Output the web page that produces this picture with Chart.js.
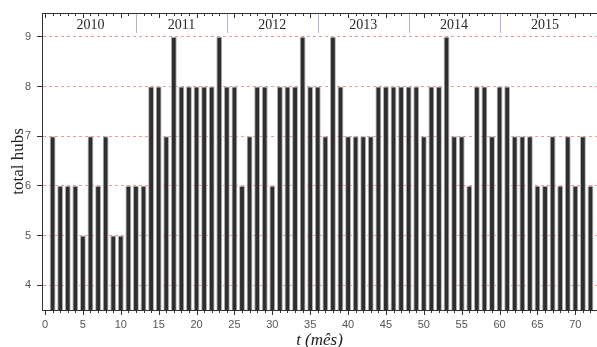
<!DOCTYPE html>
<html>
<head>
<meta charset="utf-8">
<script src="https://cdn.jsdelivr.net/npm/chart.js@4.4.1/dist/chart.umd.min.js"></script>
<style>
  html, body { margin: 0; padding: 0; background: #fff; }
  #wrap { width: 597px; height: 347px; }
</style>
</head>
<body>
<div id="wrap"><canvas id="hubs"></canvas></div>
<script>
// months since start (1..72)
const months = Array.from({ length: 72 }, (_, i) => i + 1);

// total hubs per month
const hubs = [
  7, 6, 6, 6, 5, 7, 6, 7, 5, 5, 6, 6,
  6, 8, 8, 7, 9, 8, 8, 8, 8, 8, 9, 8,
  8, 6, 7, 8, 8, 6, 8, 8, 8, 9, 8, 8,
  7, 9, 8, 7, 7, 7, 7, 8, 8, 8, 8, 8,
  8, 7, 8, 8, 9, 7, 7, 6, 8, 8, 7, 8,
  8, 7, 7, 7, 6, 6, 7, 6, 7, 6, 7, 6
];

const years = ['2010', '2011', '2012', '2013', '2014', '2015'];
const monthsPerYear = 12;

const xTicks = [0, 5, 10, 15, 20, 25, 30, 35, 40, 45, 50, 55, 60, 65, 70];
const yTicks = [4, 5, 6, 7, 8, 9];

const tickFont = { family: 'Liberation Sans, Arial, sans-serif', size: 11 };

// box top line, minor/major tick marks and the year band
const framePlugin = {
    id: 'frame',
    afterDraw(chart) {
        const { ctx, chartArea: a, scales: { x } } = chart;
        ctx.save();
        ctx.strokeStyle = '#333';
        ctx.lineWidth = 1;
        ctx.beginPath();
        ctx.moveTo(a.left, a.top + 0.5);
        ctx.lineTo(a.right, a.top + 0.5);
        for (let m = Math.ceil(x.min); m <= Math.floor(x.max); m++) {
            const px = Math.round(x.getPixelForValue(m)) + 0.5;
            const len = m % 5 === 0 ? 5 : 3;
            ctx.moveTo(px, a.bottom);
            ctx.lineTo(px, a.bottom + len);
            ctx.moveTo(px, a.top);
            ctx.lineTo(px, a.top + len);
        }
        ctx.stroke();

        // year separators
        ctx.strokeStyle = '#aab2f2';
        ctx.beginPath();
        for (let k = 1; k < years.length; k++) {
            const px = Math.round(x.getPixelForValue(k * monthsPerYear)) + 0.5;
            ctx.moveTo(px, a.top + 1);
            ctx.lineTo(px, a.top + 20);
        }
        ctx.stroke();

        // year labels
        ctx.fillStyle = '#2a2a2a';
        ctx.font = '14px "Liberation Serif", "DejaVu Serif", serif';
        ctx.textAlign = 'center';
        ctx.textBaseline = 'middle';
        years.forEach((label, k) => {
            const px = x.getPixelForValue(k * monthsPerYear + monthsPerYear / 2);
            ctx.fillText(label, px, a.top + 12);
        });
        ctx.restore();
    }
};

const ctx = document.getElementById('hubs').getContext('2d');

new Chart(ctx, {
    type: 'bar',
    data: {
        datasets: [{
            label: 'total hubs',
            data: months.map((m, i) => ({ x: m, y: hubs[i] })),
            backgroundColor: '#2e2e2e',
            borderColor: '#b4b4b4',
            borderWidth: 1,
            barPercentage: 0.78,
            categoryPercentage: 1
        }]
    },
    options: {
        responsive: true,
        maintainAspectRatio: false,
        animation: false,
        layout: { padding: { top: 13, right: 0, left: 0, bottom: 0 } },
        plugins: {
            legend: { display: false },
            tooltip: { enabled: false }
        },
        scales: {
            x: {
                type: 'linear',
                offset: false,
                min: -0.4,
                max: 72.86,
                afterBuildTicks: s => { s.ticks = xTicks.map(v => ({ value: v })); },
                afterFit: s => { s.height = 37; },
                grid: { display: false, drawTicks: true, tickLength: 5, offset: false },
                border: { display: true, color: '#333', width: 1 },
                ticks: { font: tickFont, color: '#555', padding: 3, maxRotation: 0 },
                title: {
                    display: true,
                    text: 't (mês)',
                    font: { family: 'Liberation Serif, serif', size: 17, style: 'italic' },
                    color: '#222',
                    padding: { top: 0, bottom: -4 }
                }
            },
            y: {
                min: 3.5,
                max: 9.48,
                afterBuildTicks: s => { s.ticks = yTicks.map(v => ({ value: v })); },
                afterFit: s => { s.width = 42; },
                grid: {
                    color: 'rgba(236, 120, 120, 0.75)',
                    drawTicks: true,
                    tickLength: 5,
                    tickColor: '#333',
                    tickBorderDash: []
                },
                border: { display: true, color: '#333', width: 1, dash: [3, 3] },
                ticks: { font: tickFont, color: '#555', padding: 6 },
                title: {
                    display: true,
                    text: 'total hubs',
                    font: { family: 'Liberation Serif, serif', size: 17 },
                    color: '#222',
                    padding: { top: 8, bottom: 0 }
                }
            }
        }
    },
    plugins: [framePlugin]
});
</script>
</body>
</html>
